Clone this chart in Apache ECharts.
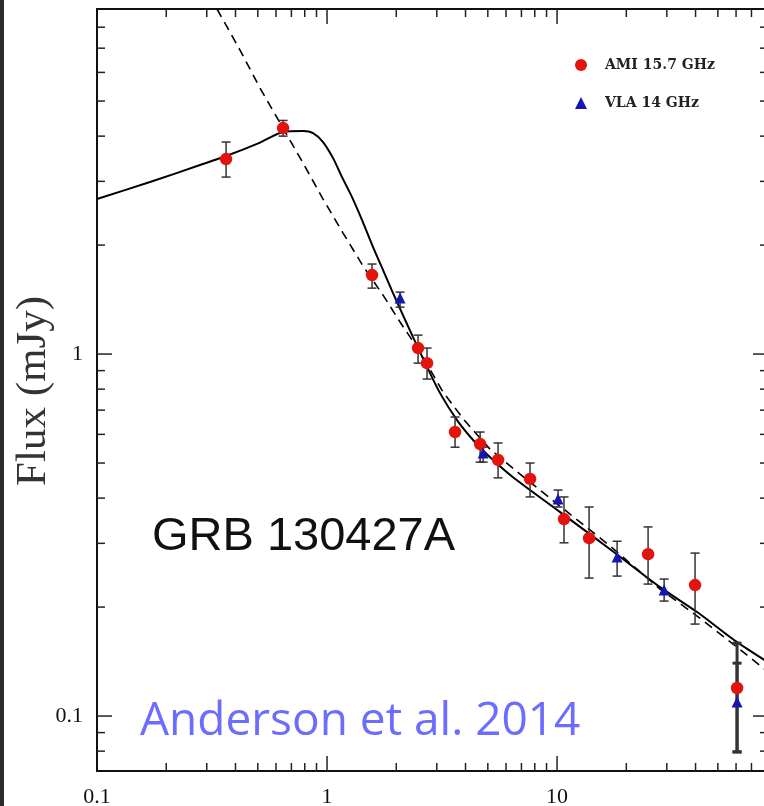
<!DOCTYPE html>
<html>
<head>
<meta charset="utf-8">
<title>GRB 130427A</title>
<script src="https://cdn.jsdelivr.net/npm/echarts@6/dist/echarts.min.js"></script>
<style>
  html, body { margin: 0; padding: 0; background: #fff; }
  #chart { width: 764px; height: 806px; }
</style>
</head>
<body>
<div id="chart"></div>
<script>
// AMI 15.7 GHz (days, mJy, error bar low/high)
const amiDays = [0.364, 0.644, 1.569, 2.487, 2.721, 3.602, 4.63, 5.54, 7.63, 10.72, 13.78, 24.87, 39.8, 60.6];
const amiFlux = [3.457, 4.21, 1.653, 1.039, 0.944, 0.609, 0.564, 0.510, 0.452, 0.350, 0.310, 0.280, 0.230, 0.1195];
const amiLow  = [3.083, 4.0, 1.521, 0.944, 0.853, 0.553, 0.503, 0.455, 0.403, 0.301, 0.2405, 0.2315, 0.1795, 0.0796];
const amiHigh = [3.852, 4.42, 1.773, 1.128, 1.039, 0.670, 0.609, 0.568, 0.500, 0.403, 0.378, 0.333, 0.282, 0.140];

// VLA 14 GHz
const vlaDays = [2.077, 4.77, 10.1, 18.24, 29.2, 60.6];
const vlaFlux = [1.428, 0.533, 0.398, 0.275, 0.2229, 0.1093];
const vlaLow  = [1.348, 0.503, 0.378, 0.2436, 0.2078, 0.0796];
const vlaHigh = [1.483, 0.553, 0.421, 0.304, 0.239, 0.159];

// solid model curve
const modelDays = [0.1, 0.170, 0.2804, 0.3638, 0.5114, 0.6437, 0.7865, 0.8694, 0.9607, 1.062, 1.162, 1.284, 1.420,
  1.585, 1.752, 1.936, 2.119, 2.365, 2.721, 3.099, 3.674, 4.313, 5.113, 6.436, 10.31, 17.0, 28.04, 40.62, 60.62, 83];
const modelFlux = [2.681, 2.987, 3.328, 3.524, 3.84, 4.106, 4.130, 4.078, 3.852, 3.478, 3.083, 2.715, 2.346,
  1.975, 1.706, 1.474, 1.298, 1.114, 0.921, 0.780, 0.657, 0.579, 0.519, 0.457, 0.366, 0.289, 0.227, 0.1938, 0.160, 0.1405];

// dashed model curve
const dashDays = [0.3324, 0.4184, 0.5114, 0.6437, 0.7865, 0.9607, 1.174, 1.434, 1.752, 2.077, 2.537, 3.194, 3.981,
  5.113, 6.904, 10.31, 17.0, 28.04, 40.62, 60.62, 83];
const dashFlux = [8.98, 6.917, 5.43, 4.21, 3.371, 2.681, 2.159, 1.751, 1.455, 1.226, 1.013, 0.785, 0.653,
  0.546, 0.466, 0.380, 0.295, 0.2243, 0.1889, 0.155, 0.132];

// axes
const xMin = 0.1, xMax = 82.6;
const yMin = 0.0705, yMax = 8.98;
const xLabelValues = [0.1, 1, 10];
const xLabelTexts = ['0.1', '1', '10'];
const yLabelValues = [0.1, 1];
const yLabelTexts = ['0.1', '1'];
const xMajorTicks = [1, 10];
const xMinorTicks = [0.2, 0.3, 0.4, 0.5, 0.6, 0.7, 0.8, 0.9, 2, 3, 4, 5, 6, 7, 8, 9, 20, 30, 40, 50, 60, 70, 80];
const yMajorTicks = [0.1, 1];
const yMinorTicks = [0.08, 0.09, 0.2, 0.3, 0.4, 0.5, 0.6, 0.7, 0.8, 0.9, 2, 3, 4, 5, 6, 7, 8];

const chart = echarts.init(document.getElementById('chart'));

function labelFor(values, texts) {
  return function (v) {
    for (let i = 0; i < values.length; i++) {
      if (Math.abs(Math.log10(v) - Math.log10(values[i])) < 1e-6) return texts[i];
    }
    return '';
  };
}

// error bars with small caps
function errorBars(days, low, high) {
  return {
    type: 'custom',
    data: days.map((d, i) => [d, low[i], high[i]]),
    encode: { x: 0, y: [1, 2] },
    z: 3,
    clip: false,
    renderItem: function (params, api) {
      const top = api.coord([api.value(0), api.value(2)]);
      const bot = api.coord([api.value(0), api.value(1)]);
      const thick = api.value(0) > 50;
      const style = { stroke: '#333', lineWidth: thick ? 3 : 1.5 };
      const cap = 4.5;
      return {
        type: 'group',
        children: [
          { type: 'line', shape: { x1: top[0], y1: top[1], x2: bot[0], y2: bot[1] }, style: style },
          { type: 'line', shape: { x1: top[0] - cap, y1: top[1], x2: top[0] + cap, y2: top[1] }, style: style },
          { type: 'line', shape: { x1: bot[0] - cap, y1: bot[1], x2: bot[0] + cap, y2: bot[1] }, style: style }
        ]
      };
    }
  };
}

// inward ticks on all four sides of the frame
function xTicks(values, len) {
  return {
    type: 'custom',
    data: values.map(v => [v, yMin]),
    clip: false,
    silent: true,
    renderItem: function (params, api) {
      const cs = params.coordSys;
      const x = api.coord([api.value(0), yMin])[0];
      const style = { stroke: '#222', lineWidth: 1.5 };
      return {
        type: 'group',
        children: [
          { type: 'line', shape: { x1: x, y1: cs.y + cs.height, x2: x, y2: cs.y + cs.height - len }, style: style },
          { type: 'line', shape: { x1: x, y1: cs.y, x2: x, y2: cs.y + len }, style: style }
        ]
      };
    }
  };
}

function yTicks(values, len) {
  return {
    type: 'custom',
    data: values.map(v => [xMin, v]),
    clip: false,
    silent: true,
    renderItem: function (params, api) {
      const cs = params.coordSys;
      const y = api.coord([xMin, api.value(1)])[1];
      const style = { stroke: '#222', lineWidth: 1.5 };
      return {
        type: 'group',
        children: [
          { type: 'line', shape: { x1: cs.x, y1: y, x2: cs.x + len, y2: y }, style: style },
          { type: 'line', shape: { x1: cs.x + cs.width, y1: y, x2: cs.x + cs.width - len, y2: y }, style: style }
        ]
      };
    }
  };
}

const option = {
  animation: false,
  backgroundColor: '#fff',
  grid: {
    left: 97, top: 9, right: -4, bottom: 35,
    outerBoundsMode: 'none', containLabel: false,
    show: true, borderColor: '#111', borderWidth: 2, backgroundColor: 'transparent'
  },
  legend: {
    orient: 'vertical',
    left: 570, top: 53,
    itemWidth: 12, itemHeight: 12, itemGap: 24,
    textStyle: { fontFamily: 'DejaVu Serif', fontSize: 14, fontWeight: 'bold', color: '#222', padding: [0, 0, 0, 13] },
    data: ['AMI 15.7 GHz', 'VLA 14 GHz']
  },
  xAxis: {
    type: 'log', logBase: 10, min: xMin, max: xMax,
    axisLine: { show: true, lineStyle: { color: '#111', width: 2 } },
    axisTick: { show: false },
    splitLine: { show: false },
    axisLabel: {
      margin: 15, fontFamily: 'Liberation Serif', fontSize: 22, color: '#111',
      formatter: labelFor(xLabelValues, xLabelTexts)
    }
  },
  yAxis: {
    type: 'log', logBase: 10, min: yMin, max: yMax,
    axisLine: { show: true, lineStyle: { color: '#111', width: 2 } },
    axisTick: { show: false },
    splitLine: { show: false },
    axisLabel: {
      margin: 14, fontFamily: 'Liberation Serif', fontSize: 22, color: '#111',
      formatter: labelFor(yLabelValues, yLabelTexts)
    }
  },
  graphic: [
    { type: 'rect', left: 0, top: 0, shape: { width: 4, height: 806 }, style: { fill: '#2b2b2b' } },
    {
      type: 'text', x: 34, y: 391, rotation: Math.PI / 2,
      style: { text: 'Flux (mJy)', fontFamily: 'Liberation Serif', fontSize: 43, fill: '#333', align: 'center', verticalAlign: 'middle' }
    },
    {
      type: 'text', x: 152, y: 537,
      style: { text: 'GRB 130427A', fontFamily: 'Liberation Sans', fontSize: 47, fill: '#111', align: 'left', verticalAlign: 'middle' }
    },
    {
      type: 'text', x: 140, y: 722, z: 10,
      style: { text: 'Anderson et al. 2014', fontFamily: 'Open Sans', fontSize: 46, fill: '#6c6cff', align: 'left', verticalAlign: 'middle' }
    }
  ],
  series: [
    xTicks(xMajorTicks, 15),
    xTicks(xMinorTicks, 8),
    yTicks(yMajorTicks, 15),
    yTicks(yMinorTicks, 8),
    {
      name: 'model', type: 'line', symbol: 'none', z: 2, smooth: 0.25,
      data: modelDays.map((d, i) => [d, modelFlux[i]]),
      lineStyle: { color: '#000', width: 2 }
    },
    {
      name: 'model2', type: 'line', symbol: 'none', z: 2,
      data: dashDays.map((d, i) => [d, dashFlux[i]]),
      lineStyle: { color: '#000', width: 1.6, type: [9, 6] }
    },
    errorBars(amiDays, amiLow, amiHigh),
    errorBars(vlaDays, vlaLow, vlaHigh),
    {
      name: 'AMI 15.7 GHz', type: 'scatter', symbol: 'circle', symbolSize: 12.5, z: 5,
      itemStyle: { color: '#e3140e', opacity: 1 },
      data: amiDays.map((d, i) => [d, amiFlux[i]])
    },
    {
      name: 'VLA 14 GHz', type: 'scatter', symbol: 'triangle', symbolSize: 11, z: 6,
      itemStyle: { color: '#1616b4', opacity: 1 },
      data: vlaDays.map((d, i) => [d, vlaFlux[i]])
    }
  ]
};

chart.setOption(option);
</script>
</body>
</html>
